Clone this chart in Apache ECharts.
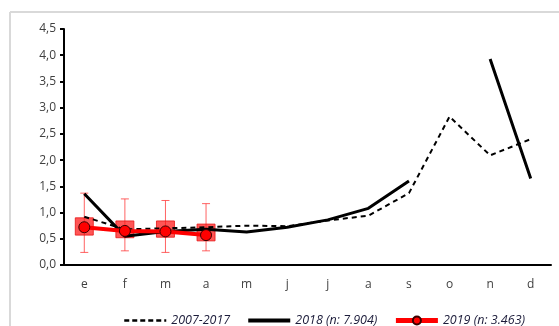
<!DOCTYPE html>
<html>
<head>
<meta charset="utf-8">
<script src="https://cdn.jsdelivr.net/npm/echarts@6/dist/echarts.min.js"></script>
<style>
  html, body { margin: 0; padding: 0; background: #fff; }
  #chart { width: 559px; height: 326px; }
</style>
</head>
<body>
<div id="chart"></div>
<script>
// meses
const months = ['e', 'f', 'm', 'a', 'm', 'j', 'j', 'a', 's', 'o', 'n', 'd']
const yTicks = [0, 0.5, 1, 1.5, 2, 2.5, 3, 3.5, 4, 4.5]

const seriesNames = ['2007-2017', '2018 (n: 7.904)', '2019 (n: 3.463)']

const hist = [0.92, 0.68, 0.70, 0.72, 0.75, 0.74, 0.85, 0.94, 1.37, 2.83, 2.09, 2.40]
const y2018 = [1.36, 0.55, 0.64, 0.68, 0.63, 0.72, 0.86, 1.08, 1.60, null, 3.93, 1.65]
const y2019 = [0.72, 0.65, 0.64, 0.57]

// bigotes y cajas 2019
const whiskerLow = [0.24, 0.27, 0.24, 0.27]
const whiskerHigh = [1.37, 1.26, 1.23, 1.17]
const boxLow = [0.57, 0.52, 0.53, 0.46]
const boxHigh = [0.90, 0.84, 0.84, 0.78]

const boxData = y2019.map((_, i) => [i, whiskerLow[i], boxLow[i], boxHigh[i], whiskerHigh[i]])

function renderBox(params, api) {
  const i = api.value(0)
  const lo = api.coord([i, api.value(1)])
  const q1 = api.coord([i, api.value(2)])
  const q3 = api.coord([i, api.value(3)])
  const hi = api.coord([i, api.value(4)])
  const cx = lo[0]
  const whisker = { stroke: 'rgba(255, 60, 60, 0.8)', lineWidth: 1 }
  return {
    type: 'group',
    children: [
      { type: 'line', shape: { x1: cx, y1: hi[1], x2: cx, y2: lo[1] }, style: whisker },
      { type: 'line', shape: { x1: cx - 4, y1: hi[1], x2: cx + 4, y2: hi[1] }, style: whisker },
      { type: 'line', shape: { x1: cx - 4, y1: lo[1], x2: cx + 4, y2: lo[1] }, style: whisker },
      {
        type: 'rect',
        shape: { x: cx - 9, y: q3[1], width: 18, height: q1[1] - q3[1] },
        style: { fill: 'rgba(255, 20, 20, 0.72)', stroke: 'rgba(230, 20, 20, 0.8)', lineWidth: 1 }
      }
    ]
  }
}

const chart = echarts.init(document.getElementById('chart'))

const labelFont = { color: '#404040', fontFamily: 'Open Sans', fontSize: 12 }

chart.setOption({
  animation: false,
  graphic: [
    { type: 'line', shape: { x1: 10, y1: 12, x2: 559, y2: 12 }, style: { stroke: '#d9d9d9', lineWidth: 2 } },
    { type: 'line', shape: { x1: 10, y1: 12, x2: 10, y2: 326 }, style: { stroke: '#d9d9d9', lineWidth: 2 } }
  ],
  grid: { left: 64, right: 8, top: 29, bottom: 61 },
  legend: {
    left: 118,
    top: 309,
    itemWidth: 42,
    itemHeight: 10,
    itemGap: 16,
    data: [
      { name: seriesNames[0], itemStyle: { opacity: 0 }, lineStyle: { width: 2.5, type: [5, 3] } },
      { name: seriesNames[1], itemStyle: { opacity: 0 }, lineStyle: { width: 4 } },
      { name: seriesNames[2], lineStyle: { width: 5 } }
    ],
    textStyle: { fontStyle: 'italic', color: '#1c1c3a', fontFamily: 'Open Sans', fontSize: 12.5 }
  },
  xAxis: {
    type: 'category',
    data: months,
    boundaryGap: true,
    axisLine: { lineStyle: { color: '#000', width: 2 } },
    axisTick: { length: 5, lineStyle: { color: '#000', width: 2 } },
    axisLabel: { ...labelFont, margin: 14 }
  },
  yAxis: {
    type: 'value',
    min: 0,
    max: 4.5,
    interval: 0.5,
    axisLine: { show: true, lineStyle: { color: '#000', width: 2 } },
    axisTick: { show: true, length: 4, lineStyle: { color: '#000', width: 2 } },
    splitLine: { show: false },
    axisLabel: {
      ...labelFont,
      margin: 8,
      formatter: v => yTicks.includes(v) ? v.toFixed(1).replace('.', ',') : ''
    }
  },
  series: [
    {
      type: 'custom',
      name: 'cajas',
      renderItem: renderBox,
      data: boxData,
      encode: { x: 0, y: [1, 2, 3, 4] },
      z: 1
    },
    {
      name: seriesNames[0],
      type: 'line',
      data: hist,
      symbol: 'none',
      color: '#000',
      lineStyle: { color: '#000', width: 2, type: [5, 4] },
      z: 2
    },
    {
      name: seriesNames[1],
      type: 'line',
      data: y2018,
      symbol: 'none',
      color: '#000',
      connectNulls: false,
      lineStyle: { color: '#000', width: 3 },
      z: 3
    },
    {
      name: seriesNames[2],
      type: 'line',
      data: y2019,
      symbol: 'circle',
      symbolSize: 11,
      color: '#ff0000',
      itemStyle: { color: '#ff0000', borderColor: '#3a0000', borderWidth: 1 },
      lineStyle: { color: '#ff0000', width: 4 },
      z: 4
    }
  ]
})
</script>
</body>
</html>
